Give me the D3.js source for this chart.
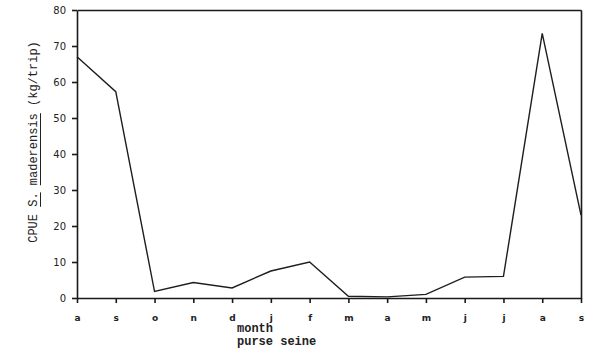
<!DOCTYPE html>
<html>
<head>
    <meta charset="utf-8">
    <title>CPUE S. maderensis</title>
    <style>
        body {
            margin: 0;
            background: #fff;
        }

        .axis path, .axis line {
            stroke: #1a1a1a;
            stroke-width: 1.6;
        }

        .axis text {
            fill: #222;
        }

        .line {
            fill: none;
            stroke: #1e1e1e;
            stroke-width: 1.4;
        }

        .label {
            font-family: "Liberation Mono", "DejaVu Sans Mono", monospace;
            fill: #222;
        }

        .underline {
            stroke: #222;
            stroke-width: 1;
        }
    </style>
    <script src="https://d3js.org/d3.v7.min.js"></script>
</head>

<body>

<script type="text/javascript">
    // months from August to September of the next year
    var months = ["a", "s", "o", "n", "d", "j", "f", "m", "a", "m", "j", "j", "a", "s"];
    var cpue = [67, 57.3, 1.8, 4.3, 2.8, 7.5, 10, 0.5, 0.3, 1, 5.8, 6, 73.5, 23];
    var yTicks = [0, 10, 20, 30, 40, 50, 60, 70, 80];

    var width = 600, height = 354,
        margins = {top: 10, left: 77, right: 19, bottom: 56};

    var x = d3.scaleLinear()
            .domain([0, months.length - 1])
            .range([margins.left, width - margins.right]);

    var y = d3.scaleLinear()
            .domain([0, 80])
            .range([height - margins.bottom, margins.top]);

    var svg = d3.select("body").append("svg")
            .attr("width", width)
            .attr("height", height);

    // frame: top and right sides
    svg.append("g")
            .attr("class", "axis")
            .attr("transform", "translate(0," + margins.top + ")")
            .call(d3.axisTop(x).ticks(0).tickSizeOuter(0));

    svg.append("g")
            .attr("class", "axis")
            .attr("transform", "translate(" + (width - margins.right) + ",0)")
            .call(d3.axisRight(y).ticks(0).tickSizeOuter(0));

    var xAxis = svg.append("g")
            .attr("class", "axis")
            .attr("transform", "translate(0," + y(0) + ")")
            .call(d3.axisBottom(x)
                    .tickValues(d3.range(months.length))
                    .tickFormat(function (i) { return months[i]; })
                    .tickSize(5)
                    .tickSizeOuter(0)
                    .tickPadding(12));

    xAxis.selectAll("text")
            .style("font-family", "DejaVu Sans, sans-serif")
            .style("font-size", "9px")
            .style("font-weight", "bold");

    var yAxis = svg.append("g")
            .attr("class", "axis")
            .attr("transform", "translate(" + margins.left + ",0)")
            .call(d3.axisLeft(y)
                    .tickValues(yTicks)
                    .tickSize(5)
                    .tickSizeOuter(0)
                    .tickPadding(6));

    yAxis.selectAll("text")
            .style("font-family", "DejaVu Sans, sans-serif")
            .style("font-size", "10px");

    var line = d3.line()
            .x(function (d, i) { return x(i); })
            .y(function (d) { return y(d); });

    svg.append("path")
            .datum(cpue)
            .attr("class", "line")
            .attr("d", line);

    // axis titles
    var yTitle = "CPUE S. maderensis (kg/trip)";
    var yLabelG = svg.append("g")
            .attr("transform", "translate(37," + ((y(0) + y(80)) / 2 - 12) + ") rotate(-90)");

    var yLabel = yLabelG.append("text")
            .attr("class", "label")
            .attr("text-anchor", "middle")
            .style("font-size", "12px")
            .text(yTitle);

    // underline the species name, word by word
    var node = yLabel.node(),
        total = node.getComputedTextLength(),
        start = -total / 2;

    [["S.", 5], ["maderensis", 8]].forEach(function (w) {
        var x0 = start + node.getSubStringLength(0, w[1]),
            len = node.getSubStringLength(w[1], w[0].length);
        yLabelG.append("line")
                .attr("class", "underline")
                .attr("x1", x0)
                .attr("x2", x0 + len)
                .attr("y1", 3.5)
                .attr("y2", 3.5);
    });

    svg.append("text")
            .attr("class", "label")
            .attr("x", 237)
            .attr("y", 332)
            .style("font-size", "12px")
            .style("font-weight", "bold")
            .text("month");

    svg.append("text")
            .attr("class", "label")
            .attr("x", 237)
            .attr("y", 345)
            .style("font-size", "12px")
            .style("font-weight", "bold")
            .text("purse seine");
</script>

</body>

</html>
